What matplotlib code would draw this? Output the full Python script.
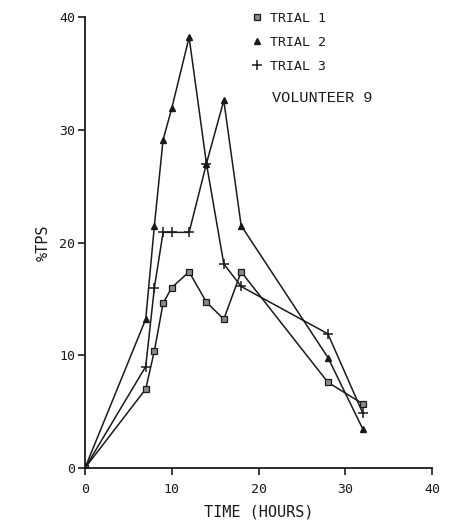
import matplotlib
matplotlib.use('Agg')
import matplotlib.pyplot as plt
from matplotlib.lines import Line2D

# hours after dosing
hours = [0, 7, 8, 9, 10, 12, 14, 16, 18, 28, 32]

# %TPS for the three trials (volunteer 9)
trial1 = [0, 7.0, 10.4, 14.6, 16.0, 17.4, 14.7, 13.2, 17.4, 7.6, 5.7]
trial2 = [0, 13.2, 21.5, 29.1, 31.9, 38.2, 27.0, 32.6, 21.5, 9.8, 3.5]
trial3 = [0, 9.0, 16.0, 20.9, 20.9, 20.9, 27.0, 18.1, 16.1, 11.9, 4.9]

xticks = [0, 10, 20, 30, 40]
yticks = [0, 10, 20, 30, 40]

ink = '#1a1a1a'
mono = 'DejaVu Sans Mono'

fig = plt.figure(figsize=(4.55, 5.29), dpi=100)
ax = fig.add_axes([85 / 455, 61 / 529, 347 / 455, 451 / 529])

ax.plot(hours, trial1, color=ink, lw=1.1, marker='s', ms=4.5,
        mfc='#8a8a8a', mec=ink, mew=0.9)
ax.plot(hours, trial2, color=ink, lw=1.1, marker='^', ms=4, mfc=ink, mec=ink)
ax.plot(hours, trial3, color=ink, lw=1.1, marker='+', ms=7, mew=1.1, mec=ink)

ax.set_xlim(0, 40)
ax.set_ylim(0, 40)
ax.set_xticks(xticks)
ax.set_yticks(yticks)
ax.spines['top'].set_visible(False)
ax.spines['right'].set_visible(False)
for s in ['left', 'bottom']:
    ax.spines[s].set_linewidth(1.3)
    ax.spines[s].set_color(ink)
ax.tick_params(direction='out', length=5, width=1.2, color=ink,
               labelsize=9.5, labelcolor=ink)
ax.tick_params(axis='y', pad=2)
ax.tick_params(axis='x', pad=6)
for lab in ax.get_xticklabels() + ax.get_yticklabels():
    lab.set_family(mono)

ax.set_xlabel('TIME (HOURS)', family=mono, fontsize=11, color=ink, labelpad=6)
ax.set_ylabel('%TPS', family=mono, fontsize=11, color=ink, labelpad=6)

handles = [
    Line2D([], [], ls='none', marker='s', ms=4.5, mfc='#8a8a8a', mec=ink, mew=0.9),
    Line2D([], [], ls='none', marker='^', ms=4, mfc=ink, mec=ink),
    Line2D([], [], ls='none', marker='+', ms=7, mew=1.1, mec=ink),
]
leg = ax.legend(handles, ['TRIAL 1', 'TRIAL 2', 'TRIAL 3'],
                loc='upper left', bbox_to_anchor=(0.48, 1.012), frameon=False,
                borderaxespad=0, borderpad=0,
                handlelength=0.8, handletextpad=0.6, labelspacing=0.85,
                prop={'family': mono, 'size': 9.5})
for t in leg.get_texts():
    t.set_color(ink)

ax.text(0.54, 0.82, 'VOLUNTEER 9', transform=ax.transAxes,
        family='Liberation Mono', fontsize=11, color=ink, va='center')

fig.savefig('out.png', dpi=100)
